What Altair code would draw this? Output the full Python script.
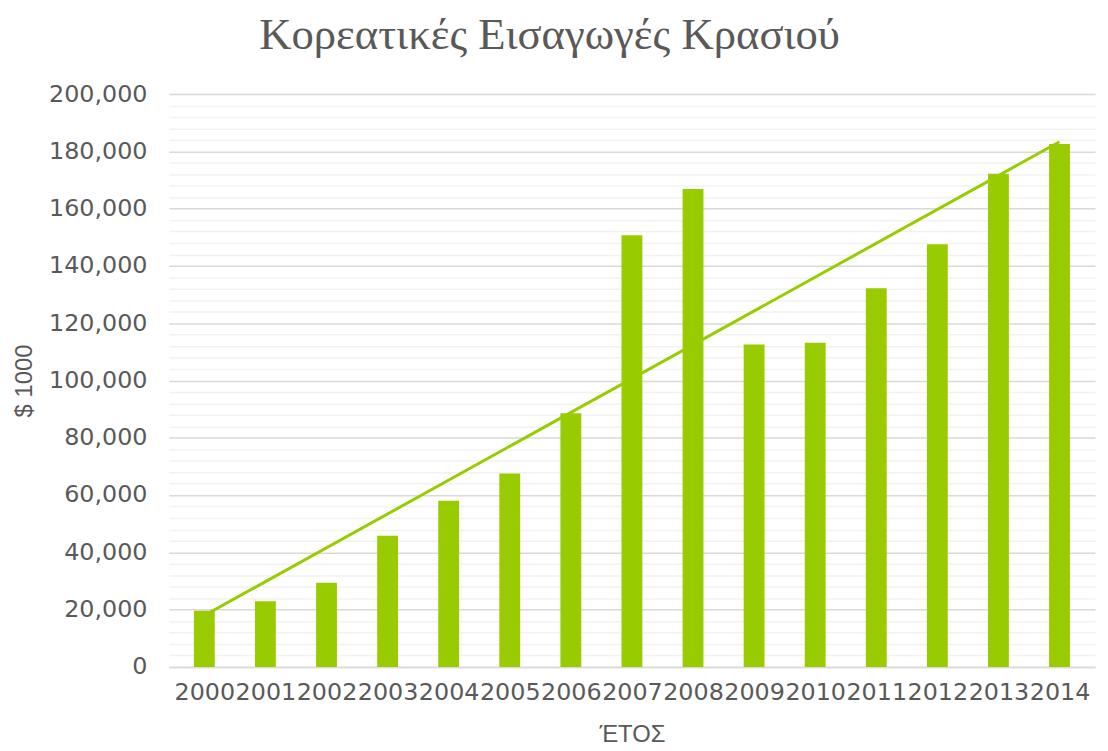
import altair as alt
import pandas as pd

years = list(range(2000, 2015))
imports = [19600, 22900, 29400, 45800, 58000, 67500, 88600, 150700,
           166900, 112600, 113200, 132200, 147600, 172200, 182600]

df = pd.DataFrame({"year": years, "value": imports})

major_ticks = list(range(0, 200001, 20000))
minor_ticks = [v for v in range(0, 200001, 4000) if v % 20000 != 0]

GREEN = "#99CC00"
TXT = "#595959"

x_enc = alt.X("year:Q",
              scale=alt.Scale(domain=[1999.5, 2014.5], nice=False, zero=False),
              axis=alt.Axis(values=years, format="d", title="ΈΤΟΣ", grid=False,
                            ticks=False, labelOverlap=False, labelFlush=False,
                            labelPadding=14, labelFontSize=24, labelFont="DejaVu Sans",
                            labelColor=TXT, domainColor="#D9D9D9", domainWidth=1.5,
                            titleFont="Liberation Sans", titleFontSize=24,
                            titleFontWeight="normal", titleColor=TXT, titlePadding=18))

y_scale = alt.Scale(domain=[0, 200000], nice=False)

bars = alt.Chart(df).mark_bar(color=GREEN, size=21).encode(
    x=x_enc,
    y=alt.Y("value:Q", scale=y_scale,
            axis=alt.Axis(values=major_ticks, format=",d", title="$ 1000",
                          orient="left", ticks=False, domain=False, grid=True,
                          gridColor="#D9D9D9", gridWidth=1.5,
                          labelPadding=22, labelFontSize=24, labelFont="DejaVu Sans",
                          labelColor=TXT, titleFont="Liberation Sans", titleFontSize=24,
                          titleFontWeight="normal", titleColor=TXT, titlePadding=12)),
)

trend = alt.Chart(df).transform_regression(
    "year", "value", method="linear"
).mark_line(color=GREEN, strokeWidth=3).encode(
    x=alt.X("year:Q"),
    y=alt.Y("value:Q", scale=y_scale,
            axis=alt.Axis(values=minor_ticks, orient="left", labels=False,
                          ticks=False, domain=False, title=None, grid=True,
                          gridColor="#F2F2F2", gridWidth=1.5)),
)

chart = alt.layer(trend, bars).resolve_axis(y="independent").properties(
    width=933,
    height=577,
    autosize=alt.AutoSizeParams(type="none"),
    padding={"left": 162, "top": 84, "right": 5, "bottom": 82},
    title=alt.TitleParams("Κορεατικές Εισαγωγές Κρασιού", font="Liberation Serif",
                          fontSize=45, fontWeight="normal", color=TXT,
                          anchor="middle", dx=-83, offset=24),
).configure_view(stroke=None)

chart.save("out.html", embed_options={"renderer": "svg", "actions": False})
